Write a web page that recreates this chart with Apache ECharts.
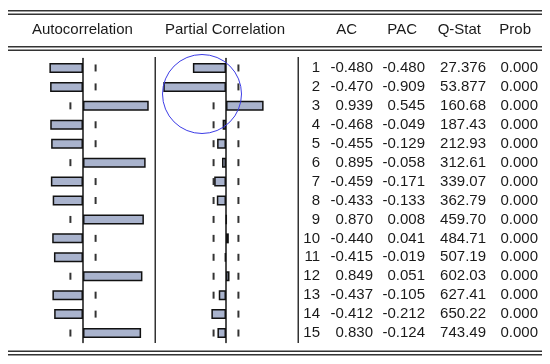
<!DOCTYPE html>
<html><head><meta charset="utf-8">
<script src="https://cdn.jsdelivr.net/npm/echarts@6/dist/echarts.min.js"></script>
<style>html,body{margin:0;padding:0;background:#fff}#c{width:550px;height:364px}</style>
</head><body><div id="c"></div>
<script>
var lags = [1,2,3,4,5,6,7,8,9,10,11,12,13,14,15];
var acValues = [-0.480,-0.470,0.939,-0.468,-0.455,0.895,-0.459,-0.433,0.870,-0.440,-0.415,0.849,-0.437,-0.412,0.830];
var pacValues = [-0.480,-0.909,0.545,-0.049,-0.129,-0.058,-0.171,-0.133,0.008,0.041,-0.019,0.051,-0.105,-0.212,-0.124];
var qStat = ['27.376','53.877','160.68','187.43','212.93','312.61','339.07','362.79','459.70','484.71','507.19','602.03','627.41','650.22','743.49'];
var probValues = ['0.000','0.000','0.000','0.000','0.000','0.000','0.000','0.000','0.000','0.000','0.000','0.000','0.000','0.000','0.000'];
var confBound = 0.18;
var headers = ['Autocorrelation','Partial Correlation','AC','PAC','Q-Stat','Prob'];

var FONT = '"Liberation Sans", Arial, sans-serif';
var TXT = '#1a1a1a';
var BAR = '#a9b3cd';
var LINE = '#333';
var cats = lags.map(String);
var TOP = 58.5, H = 284;

function dashData() {
  var d = [];
  cats.forEach(function (c, i) { d.push([-confBound, i]); d.push([confBound, i]); });
  return d;
}
function yAx(gi) {
  return {type:'category', gridIndex:gi, data:cats, inverse:true,
    axisLine:{show:gi<2, onZero:true, lineStyle:{color:'#222', width:1.6}},
    axisTick:{show:false}, axisLabel:{show:false}, splitLine:{show:false}};
}
function xAx(gi, mn, mx) {
  return {type:'value', gridIndex:gi, min:mn, max:mx, show:false, splitLine:{show:false}};
}
function barSeries(gi, vals) {
  return {type:'bar', xAxisIndex:gi, yAxisIndex:gi, data:vals, barWidth:10, z:3,
    itemStyle:{color:BAR, borderColor:'#111', borderWidth:1.5}, silent:true, animation:false};
}
function dashSeries(gi) {
  return {type:'scatter', xAxisIndex:gi, yAxisIndex:gi, data:dashData(), symbol:'rect',
    symbolSize:[2,7], itemStyle:{color:'#000'}, z:2, silent:true, animation:false};
}
// column right edges in table grid (relative x units)
var colRight = [22, 75, 127, 188, 240];
var tableRows = lags.map(function (l, i) {
  return [i, String(l), acValues[i].toFixed(3), pacValues[i].toFixed(3), qStat[i], probValues[i]];
});

var option = {
  backgroundColor:'#fff',
  animation:false,
  grid:[
    {left:13, width:140, top:TOP, height:H},
    {left:157, width:138, top:TOP, height:H},
    {left:298, width:252, top:TOP, height:H}
  ],
  xAxis:[xAx(0,-1,1), xAx(1,-1,1), xAx(2,0,252)],
  yAxis:[yAx(0), yAx(1), yAx(2)],
  series:[
    dashSeries(0), barSeries(0, acValues),
    dashSeries(1), barSeries(1, pacValues),
    {type:'custom', xAxisIndex:2, yAxisIndex:2, data:tableRows, silent:true,
     renderItem:function (params, api) {
       var idx = api.value(0);
       var y = api.coord([0, idx])[1];
       var row = tableRows[idx];
       var kids = [];
       for (var k = 0; k < 5; k++) {
         var x = api.coord([colRight[k], idx])[0];
         kids.push({type:'text', style:{text:row[k+1], x:x, y:y, textAlign:'right', textVerticalAlign:'middle',
           font:'15px ' + FONT, fill:TXT}});
       }
       return {type:'group', children:kids};
     }}
  ],
  graphic:[
    {type:'rect', shape:{x:8, y:10, width:534, height:1.5}, style:{fill:LINE}},
    {type:'rect', shape:{x:8, y:13.5, width:534, height:1.5}, style:{fill:LINE}},
    {type:'rect', shape:{x:8, y:46, width:534, height:1.5}, style:{fill:LINE}},
    {type:'rect', shape:{x:8, y:49.5, width:534, height:1.5}, style:{fill:LINE}},
    {type:'rect', shape:{x:8, y:350.5, width:534, height:1.5}, style:{fill:LINE}},
    {type:'rect', shape:{x:8, y:354, width:534, height:1.5}, style:{fill:LINE}},
    {type:'rect', shape:{x:154.5, y:57, width:1.5, height:286}, style:{fill:LINE}},
    {type:'rect', shape:{x:297.5, y:57, width:1.5, height:286}, style:{fill:LINE}},
    {type:'text', style:{text:headers[0], x:32, y:30, textVerticalAlign:'middle', font:'15px '+FONT, fill:TXT}},
    {type:'text', style:{text:headers[1], x:165, y:30, textVerticalAlign:'middle', font:'15px '+FONT, fill:TXT}},
    {type:'text', style:{text:headers[2], x:357, y:30, textAlign:'right', textVerticalAlign:'middle', font:'15px '+FONT, fill:TXT}},
    {type:'text', style:{text:headers[3], x:417, y:30, textAlign:'right', textVerticalAlign:'middle', font:'15px '+FONT, fill:TXT}},
    {type:'text', style:{text:headers[4], x:481, y:30, textAlign:'right', textVerticalAlign:'middle', font:'15px '+FONT, fill:TXT}},
    {type:'text', style:{text:headers[5], x:531, y:30, textAlign:'right', textVerticalAlign:'middle', font:'15px '+FONT, fill:TXT}},
    {type:'circle', shape:{cx:202, cy:94, r:39.5}, style:{fill:'none', stroke:'#3d3de6', lineWidth:1}, z:10}
  ]
};
var chart = echarts.init(document.getElementById('c'), null, {renderer:'canvas'});
chart.setOption(option);
</script></body></html>
